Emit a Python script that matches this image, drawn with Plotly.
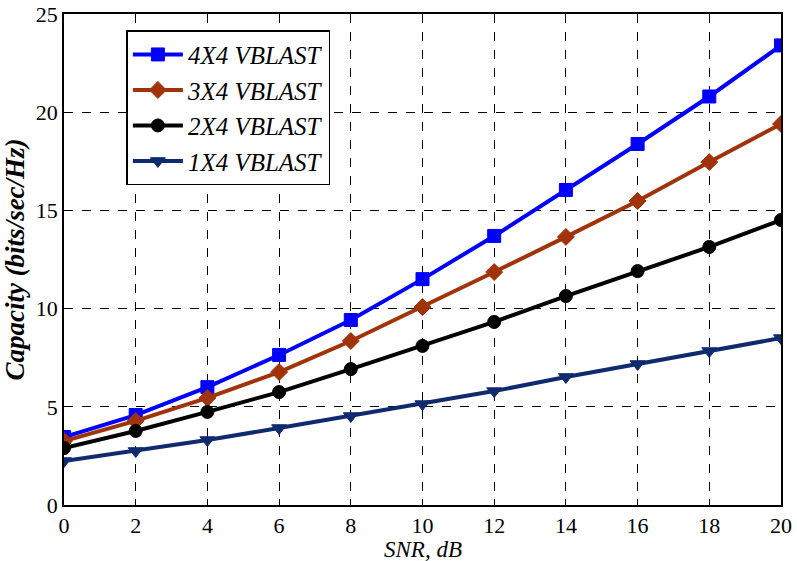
import plotly.graph_objects as go

snr = [0, 2, 4, 6, 8, 10, 12, 14, 16, 18, 20]
cap_4x4 = [3.46, 4.58, 6.0, 7.64, 9.42, 11.5, 13.7, 16.04, 18.38, 20.8, 23.4]
cap_3x4 = [3.26, 4.28, 5.45, 6.77, 8.35, 10.08, 11.86, 13.65, 15.48, 17.46, 19.4]
cap_2x4 = [2.9, 3.77, 4.74, 5.75, 6.92, 8.1, 9.32, 10.64, 11.91, 13.14, 14.51]
cap_1x4 = [2.24, 2.75, 3.31, 3.92, 4.53, 5.14, 5.8, 6.52, 7.18, 7.84, 8.5]

series = [
    ("4X4 VBLAST", cap_4x4, "#0000FF", "square"),
    ("3X4 VBLAST", cap_3x4, "#A0330A", "diamond"),
    ("2X4 VBLAST", cap_2x4, "#000000", "circle"),
    ("1X4 VBLAST", cap_1x4, "#0F2A6E", "triangle-down"),
]

fig = go.Figure()
for name, ys, col, sym in series:
    fig.add_trace(go.Scatter(
        x=snr, y=ys, name="<i>" + name + "</i>", mode="lines+markers",
        line=dict(color=col, width=4),
        marker=dict(symbol=sym, size=13, color=col, line=dict(color=col, width=1)),
    ))

font = "Liberation Serif"
axis_common = dict(
    showline=True, linecolor="black", linewidth=1.5, mirror=True,
    showgrid=True, gridcolor="black", griddash="dash", gridwidth=1,
    ticks="inside", ticklen=6, tickcolor="black",
    tickfont=dict(family=font, size=22, color="black"),
    zeroline=False, automargin=False,
)
fig.update_xaxes(range=[0, 20], dtick=2, **axis_common)
fig.update_yaxes(range=[0, 25], dtick=5, **axis_common,
                 title=dict(text="<b><i>Capacity (bits/sec/Hz)</i></b>", font=dict(family=font, size=27, color="black"), standoff=3))

fig.add_annotation(
    text="<i>SNR, dB</i>", xref="paper", yref="paper", x=0.5, y=-0.114,
    xanchor="center", yanchor="bottom", showarrow=False, yshift=-2,
    borderpad=0,
    font=dict(family=font, size=23, color="black"),
)

fig.update_layout(
    width=797, height=561,
    margin=dict(l=64, r=16, t=14, b=56),
    plot_bgcolor="white", paper_bgcolor="white",
    showlegend=True,
    legend=dict(
        x=0.087, y=0.967, xanchor="left", yanchor="top",
        bgcolor="white", bordercolor="black", borderwidth=1.5,
        font=dict(family=font, size=25, color="black"),
        itemwidth=50, tracegroupgap=0,
    ),
)
fig.write_html("out.html")
